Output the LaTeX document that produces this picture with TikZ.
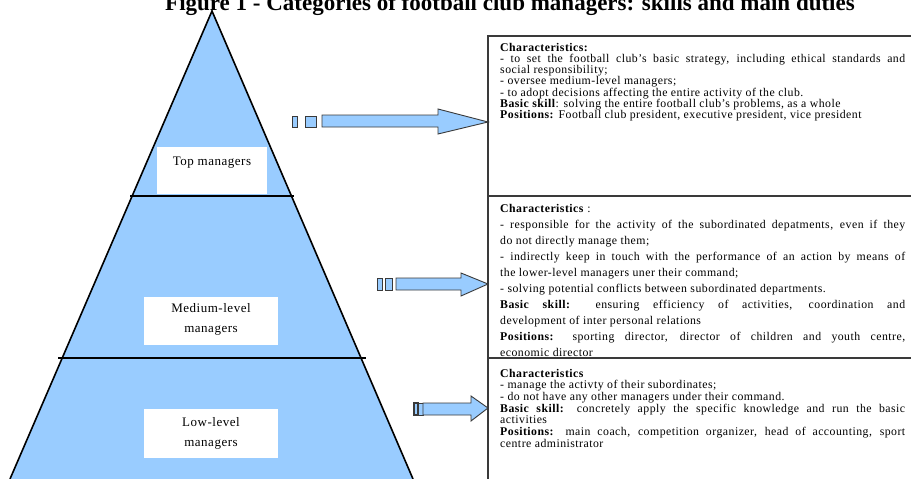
\documentclass[tikz,border=0pt]{standalone}
\usepackage{fontspec}
\setmainfont{Liberation Serif}
\newfontfamily\boxfont[LetterSpace=4]{Liberation Serif}
\definecolor{pyr}{HTML}{99CCFF}
\definecolor{edge}{HTML}{3A3A3A}
\newcommand\jline[1]{\hbox to 405pt{#1}}
\newcommand\nline[1]{\hbox{#1}}
\tikzset{
  arr/.style={fill=pyr, draw=edge, line width=0.9pt, line join=miter},
  tier/.style={draw=black, line width=1.6pt},
  lblbox/.style={fill=white, draw=none},
  lbltext/.style={inner sep=0pt, align=center, font=\boxfont\fontsize{13}{20}\selectfont},
  boxtext/.style={inner sep=0pt, anchor=base west},
  frame/.style={draw=edge, line width=1.1pt},
}
\begin{document}
\begin{tikzpicture}[x=1pt,y=-1pt]
\useasboundingbox (0,0) rectangle (911,479);
\clip (0,0) rectangle (911,479);
% title
\node[inner sep=0pt, anchor=base, font=\bfseries\fontsize{23}{26}\selectfont] (title) at (510,10) {Figure 1 - Categories of football club managers: skills and main duties};
% pyramid
\coordinate (apex) at (212,11);
\coordinate (bl) at (10,479);
\coordinate (br) at (413,479);
\fill[pyr] (apex) -- (bl) -- (br) -- cycle;
\draw[tier, line join=miter] (bl) -- (apex) -- (br);
\draw[tier] (130,196) -- (294,196);
\draw[tier] (58,358) -- (366,358);
% label boxes
\fill[lblbox] (157,147) rectangle (267,194);
\fill[lblbox] (144,297) rectangle (278,345);
\fill[lblbox] (144,409) rectangle (278,458);
\node[lbltext] (top) at (212,163) {Top managers};
\node[lbltext] (mid) at (211,319) {Medium-level\\managers};
\node[lbltext] (low) at (211,433) {Low-level\\managers};
% arrows
\draw[arr] (292,116) rectangle (297,127);
\draw[arr] (305,116) rectangle (316,127);
\draw[arr] (322,115) -- (438,115) -- (438,109) -- (488,122) -- (438,134) -- (438,127) -- (322,127) -- cycle;
\draw[arr] (377,278) rectangle (382,290);
\draw[arr] (385,278) rectangle (392,290);
\draw[arr] (396,278) -- (461,278) -- (461,273) -- (488,284) -- (461,296) -- (461,290) -- (396,290) -- cycle;
\draw[arr, line width=1.1pt] (414,403) rectangle (418,415);
\draw[arr] (418,403) rectangle (423,415);
\draw[arr] (423,403) -- (471,403) -- (471,396) -- (488,408) -- (471,421) -- (471,415) -- (423,415) -- cycle;
% right boxes
\draw[frame] (488,36) rectangle (940,520);
\node[boxtext] (b1) at (500,51) {\vtop{\boxfont\fontsize{11.8}{11.3}\selectfont
\nline{\textbf{Characteristics:}}
\jline{- to set the football club’s basic strategy, including ethical standards and}
\nline{social responsibility;}
\nline{- oversee medium-level managers;}
\nline{- to adopt decisions affecting the entire activity of the club.}
\nline{\textbf{Basic skill}: solving the entire football club’s problems, as a whole}
\nline{\textbf{Positions:} Football club president, executive president, vice president}}};
\node[boxtext] (b2) at (500,212) {\vtop{\boxfont\fontsize{11.8}{16}\selectfont
\nline{\textbf{Characteristics} :}
\jline{- responsible for the activity of the subordinated depatments, even if they}
\nline{do not directly manage them;}
\jline{- indirectly keep in touch with the performance of an action by means of}
\nline{the lower-level managers uner their command;}
\nline{- solving potential conflicts between subordinated departments.}
\jline{\textbf{Basic skill:} ensuring efficiency of activities, coordination and}
\nline{development of inter personal relations}
\jline{\textbf{Positions:} sporting director, director of children and youth centre,}
\nline{economic director}}};
\fill[white] (489,358) rectangle (930,520);
\draw[frame] (488,196) -- (940,196);
\draw[frame] (488,358) -- (940,358);
\draw[frame] (488,358) -- (488,520);
\node[boxtext] (b3) at (500,377) {\vtop{\boxfont\fontsize{11.8}{11.7}\selectfont
\nline{\textbf{Characteristics}}
\nline{- manage the activty of their subordinates;}
\nline{- do not have any other managers under their command.}
\jline{\textbf{Basic skill:} concretely apply the specific knowledge and run the basic}
\nline{activities}
\jline{\textbf{Positions:} main coach, competition organizer, head of accounting, sport}
\nline{centre administrator}}};
\end{tikzpicture}
\end{document}
